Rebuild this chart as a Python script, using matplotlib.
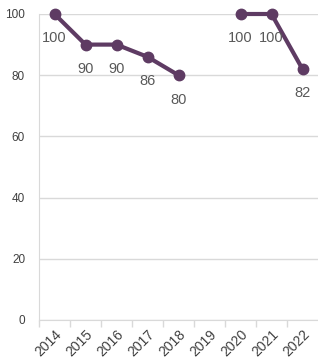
import matplotlib
matplotlib.use("Agg")
import matplotlib.pyplot as plt
import numpy as np

years = ["2014", "2015", "2016", "2017", "2018", "2019", "2020", "2021", "2022"]
values = [100, 90, 90, 86, 80, np.nan, 100, 100, 82]
yticks = [0, 20, 40, 60, 80, 100]

plt.rcParams['font.family'] = ['Liberation Sans', 'DejaVu Sans']

fig = plt.figure(figsize=(3.18, 3.61), dpi=100)
ax = fig.add_axes([39/318, 1 - 320/361, 1 - 39/318, (320 - 14)/361])

x = np.arange(len(years))
line_color = "#5E3B63"
ax.plot(x, values, color=line_color, lw=3, marker='o', ms=7.5, clip_on=False, zorder=3)

for xi, v in zip(x, values):
    if np.isnan(v):
        continue
    ax.annotate(f"{v:g}", (xi, v), xytext=(0, -17.5), textcoords='offset points',
                ha='center', va='center', fontsize=10.5, color='#595959')

ax.set_xlim(-0.5, len(years) - 0.5)
ax.set_ylim(0, 100)
ax.set_yticks(yticks)
ax.set_yticklabels([str(t) for t in yticks], fontsize=8.5, color='#404040')
ax.tick_params(axis='y', length=0, pad=10)

ax.set_xticks(x)
ax.set_xticklabels(years, rotation=45, ha='right', rotation_mode='anchor', fontsize=10, color='#404040')
ax.tick_params(axis='x', which='major', length=0, pad=5)
ax.set_xticks(np.arange(-0.5, len(years) - 0.5, 1), minor=True)
ax.tick_params(axis='x', which='minor', length=5, color='#D9D9D9', width=1)

ax.grid(axis='y', color='#D9D9D9', lw=1)
ax.set_axisbelow(True)
for s in ['top', 'right']:
    ax.spines[s].set_visible(False)
ax.spines['left'].set_color('#D9D9D9')
ax.spines['bottom'].set_color('#D9D9D9')

fig.savefig("out.png", dpi=100)
